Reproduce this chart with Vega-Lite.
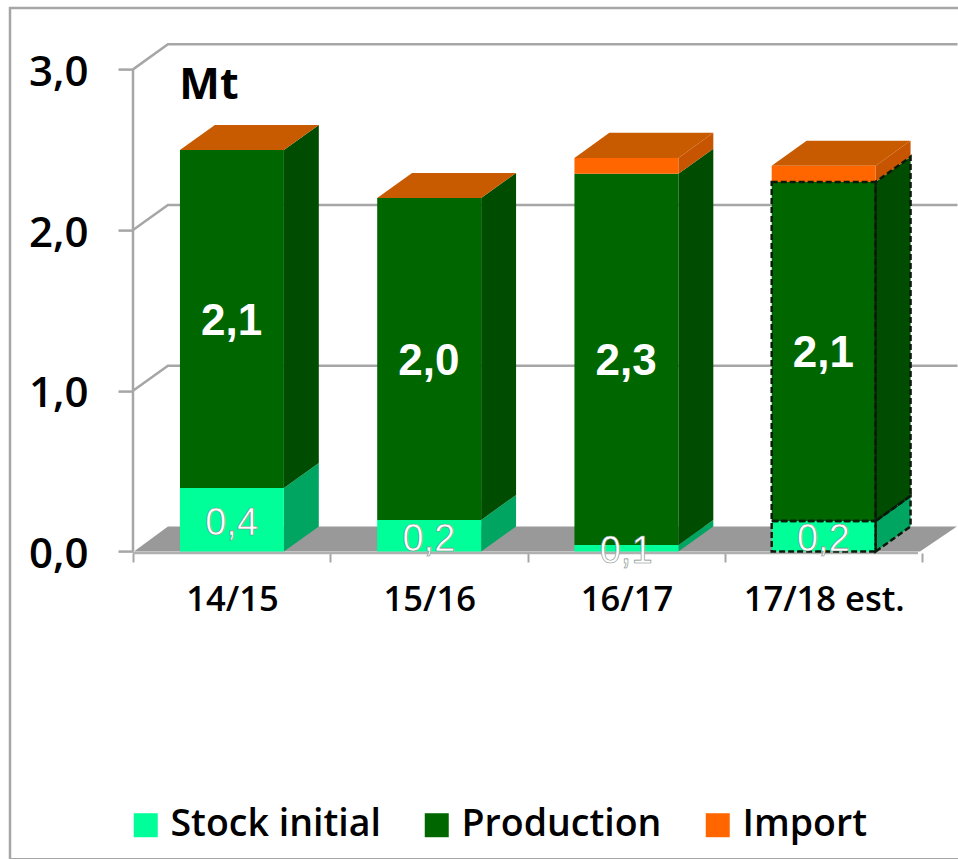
{
"$schema":"https://vega.github.io/schema/vega-lite/v6.json",
"width":825,"height":546.4,
"padding":{"left":133,"top":5.1,"right":0,"bottom":307.5},
"autosize":{"type":"none"},
"background":"#ffffff",
"config":{"view":{"stroke":null},"font":"Open Sans"},
"resolve":{"scale":{"color":"independent"}},
"layer":[
{"data":{"values":[{"item":"frame"}]},
 "mark":{"type":"rect","fill":null,"stroke":"#A6A6A6","strokeWidth":2.5,"clip":false},
 "encoding":{
  "x":{"datum":-0.6236,"type":"quantitative","scale":{"domain":[0,4.1825],"nice":false,"zero":false},
   "axis":{"title":null,"values":[0,1,2,3,4],"domain":false,"grid":false,"offset":1.5,"tickSize":9,"tickWidth":2,"tickColor":"#A6A6A6","labelOffset":99,"labelPadding":21,"labelFontSize":34.5,"labelFontWeight":600,"labelColor":"#000000","labelAlign":"center","labelBaseline":"top","labelExpr":"['14/15','15/16','16/17','17/18 est.',''][datum.value]","labelFlush":false,"labelOverlap":false}},
  "x2":{"datum":4.4},
  "y":{"datum":3.382,"type":"quantitative","scale":{"domain":[0,3.4],"nice":false,"zero":false},
   "axis":{"title":null,"values":[0,1,2,3],"domain":false,"grid":false,"tickSize":15,"tickWidth":2.5,"tickColor":"#A6A6A6","labelPadding":30,"labelFontSize":42,"labelFontWeight":600,"labelColor":"#000000","labelOffset":3,"labelExpr":"replace(format(datum.value,'.1f'),'.',',')","labelOverlap":false}},
  "y2":{"datum":-1.915}
 }},
{"data":{"values":[
  {"level":1,"run":0,"rise":0},{"level":1,"run":0.177,"rise":0.156},{"level":1,"run":4.18,"rise":0.156},
  {"level":2,"run":0,"rise":0},{"level":2,"run":0.177,"rise":0.156},{"level":2,"run":4.18,"rise":0.156},
  {"level":3,"run":0,"rise":0},{"level":3,"run":0.177,"rise":0.156},{"level":3,"run":4.18,"rise":0.156}]},
 "transform":[{"calculate":"datum.level+datum.rise","as":"h"}],
 "mark":{"type":"line","stroke":"#A6A6A6","strokeWidth":2.5},
 "encoding":{
  "x":{"field":"run","type":"quantitative","scale":{"domain":[0,4.1825]}},
  "y":{"field":"h","type":"quantitative","scale":{"domain":[0,3.4]}},
  "detail":{"field":"level"}
 }},
{"data":{"values":[{"depth":0,"from":0.005,"to":3.99},{"depth":0.156,"from":0.177,"to":4.177}]},
 "mark":{"type":"area","orient":"horizontal","fill":"#999999"},
 "encoding":{
  "y":{"field":"depth","type":"quantitative","scale":{"domain":[0,3.4]}},
  "x":{"field":"from","type":"quantitative","scale":{"domain":[0,4.1825]}},
  "x2":{"field":"to"}
 }},
{"data":{"values":[{"item":"y line"}]},
 "mark":{"type":"rule","stroke":"#A6A6A6","strokeWidth":2.5},
 "encoding":{
  "x":{"datum":0,"type":"quantitative","scale":{"domain":[0,4.1825]}},
  "y":{"datum":0,"type":"quantitative","scale":{"domain":[0,3.4]}},
  "y2":{"datum":3}
 }},
{"data":{"values":[{"item":"x line"}]},
 "mark":{"type":"rule","stroke":"#B0B0B0","strokeWidth":2.5,"yOffset":1.5},
 "encoding":{
  "x":{"datum":0,"type":"quantitative","scale":{"domain":[0,4.1825]}},
  "x2":{"datum":3.98},
  "y":{"datum":0,"type":"quantitative","scale":{"domain":[0,3.4]}}
 }},
{"data":{"name":"bars"},
 "transform":[
  {"stack":"value","groupby":["period"],"sort":[{"field":"order","order":"ascending"}],"as":["start","end"]},
  {"calculate":"indexof(['14/15','15/16','16/17','17/18 est.'],datum.period)+0.238","as":"x0"},
  {"calculate":"datum.x0+0.527","as":"x1"},
  {"calculate":"[0,1]","as":"t"},{"flatten":["t"]},
  {"calculate":"datum.x1+datum.t*0.177","as":"sx"},
  {"calculate":"datum.start+datum.t*0.156","as":"lo"},
  {"calculate":"datum.end+datum.t*0.156","as":"hi"},
  {"calculate":"datum.period+datum.series","as":"face"}],
 "mark":{"type":"area","orient":"vertical"},
 "encoding":{
  "x":{"field":"sx","type":"quantitative","scale":{"domain":[0,4.1825]}},
  "y":{"field":"lo","type":"quantitative","scale":{"domain":[0,3.4]}},
  "y2":{"field":"hi"},
  "detail":{"field":"face"},
  "color":{"field":"series","type":"nominal","legend":null,"scale":{"domain":["Stock initial","Production","Import"],"range":["#00A561","#004C00","#C65400"]}}
 }},
{"data":{"name":"bars"},
 "transform":[
  {"stack":"value","groupby":["period"],"sort":[{"field":"order","order":"ascending"}],"as":["start","end"]},
  {"filter":"datum.series==='Import'"},
  {"calculate":"indexof(['14/15','15/16','16/17','17/18 est.'],datum.period)+0.238","as":"x0"},
  {"calculate":"[0,1]","as":"t"},{"flatten":["t"]},
  {"calculate":"datum.x0+datum.t*0.177","as":"ax"},
  {"calculate":"datum.ax+0.527","as":"bx"},
  {"calculate":"datum.end+datum.t*0.156","as":"h"}],
 "mark":{"type":"area","orient":"horizontal","fill":"#C85A00"},
 "encoding":{
  "y":{"field":"h","type":"quantitative","scale":{"domain":[0,3.4]}},
  "x":{"field":"ax","type":"quantitative","scale":{"domain":[0,4.1825]}},
  "x2":{"field":"bx"},
  "detail":{"field":"period"}
 }},
{"data":{"name":"bars"},
 "transform":[
  {"stack":"value","groupby":["period"],"sort":[{"field":"order","order":"ascending"}],"as":["start","end"]},
  {"calculate":"indexof(['14/15','15/16','16/17','17/18 est.'],datum.period)+0.238","as":"x0"},
  {"calculate":"datum.x0+0.527","as":"x1"}],
 "mark":{"type":"rect"},
 "encoding":{
  "x":{"field":"x0","type":"quantitative","scale":{"domain":[0,4.1825]}},
  "x2":{"field":"x1"},
  "y":{"field":"start","type":"quantitative","scale":{"domain":[0,3.4]}},
  "y2":{"field":"end"},
  "color":{"field":"series","type":"nominal","title":null,
   "scale":{"domain":["Stock initial","Production","Import"],"range":["#00FF99","#006600","#FF6600"]},
   "legend":{"orient":"none","legendX":-6,"legendY":801,"direction":"horizontal","columns":3,"symbolType":"square","symbolSize":576,"symbolStrokeWidth":0,"labelFontSize":37.5,"labelFontWeight":600,"labelFont":"Open Sans","labelColor":"#000000","labelOffset":6,"columnPadding":37,"labelLimit":400,"padding":0}}
 }},
{"data":{"name":"bars"},
 "transform":[
  {"stack":"value","groupby":["period"],"sort":[{"field":"order","order":"ascending"}],"as":["start","end"]},
  {"filter":"datum.estimated && datum.series!=='Import'"},
  {"calculate":"indexof(['14/15','15/16','16/17','17/18 est.'],datum.period)+0.238","as":"x0"},
  {"calculate":"datum.x0+0.527","as":"x1"}],
 "mark":{"type":"rect","fillOpacity":0,"stroke":"#0A1A0A","strokeWidth":2.5,"strokeDash":[6,3]},
 "encoding":{
  "x":{"field":"x0","type":"quantitative","scale":{"domain":[0,4.1825]}},
  "x2":{"field":"x1"},
  "y":{"field":"start","type":"quantitative","scale":{"domain":[0,3.4]}},
  "y2":{"field":"end"}
 }},
{"data":{"name":"bars"},
 "transform":[
  {"stack":"value","groupby":["period"],"sort":[{"field":"order","order":"ascending"}],"as":["start","end"]},
  {"filter":"datum.estimated && datum.series!=='Import'"},
  {"calculate":"indexof(['14/15','15/16','16/17','17/18 est.'],datum.period)+0.765","as":"x1"},
  {"calculate":"[0,1]","as":"t"},{"flatten":["t"]},
  {"calculate":"datum.x1+datum.t*0.177","as":"sx"},
  {"calculate":"datum.start+datum.t*0.156","as":"lo"},
  {"calculate":"datum.end+datum.t*0.156","as":"hi"}],
 "mark":{"type":"area","orient":"vertical","fillOpacity":0,"stroke":"#0A1A0A","strokeWidth":2.5,"strokeDash":[6,3]},
 "encoding":{
  "x":{"field":"sx","type":"quantitative","scale":{"domain":[0,4.1825]}},
  "y":{"field":"lo","type":"quantitative","scale":{"domain":[0,3.4]}},
  "y2":{"field":"hi"},
  "detail":{"field":"series"}
 }},
{"data":{"name":"bars"},
 "transform":[
  {"stack":"value","groupby":["period"],"sort":[{"field":"order","order":"ascending"}],"as":["start","end"]},
  {"filter":"datum.series==='Production'"},
  {"calculate":"indexof(['14/15','15/16','16/17','17/18 est.'],datum.period)+0.5","as":"xm"},
  {"calculate":"(datum.start+datum.end)/2","as":"ym"}],
 "mark":{"type":"text","font":"Liberation Sans","fontWeight":"bold","fontSize":44,"fill":"#ffffff","align":"center","baseline":"middle","dy":3},
 "encoding":{
  "x":{"field":"xm","type":"quantitative","scale":{"domain":[0,4.1825]}},
  "y":{"field":"ym","type":"quantitative","scale":{"domain":[0,3.4]}},
  "text":{"field":"label"}
 }},
{"data":{"name":"bars"},
 "transform":[
  {"stack":"value","groupby":["period"],"sort":[{"field":"order","order":"ascending"}],"as":["start","end"]},
  {"filter":"datum.series==='Stock initial'"},
  {"calculate":"indexof(['14/15','15/16','16/17','17/18 est.'],datum.period)+0.5","as":"xm"},
  {"calculate":"(datum.start+datum.end)/2","as":"ym"}],
 "mark":{"type":"text","font":"Liberation Sans","fontWeight":"normal","fontSize":38,"fill":"#ffffff","stroke":"#7A8A85","strokeWidth":0.6,"align":"center","baseline":"middle","dy":4},
 "encoding":{
  "x":{"field":"xm","type":"quantitative","scale":{"domain":[0,4.1825]}},
  "y":{"field":"ym","type":"quantitative","scale":{"domain":[0,3.4]}},
  "text":{"field":"label"}
 }},
{"data":{"values":[{"unit":"Mt"}]},
 "mark":{"type":"text","fontSize":43,"fontWeight":"bold","font":"Open Sans","fill":"#000000","align":"left","baseline":"alphabetic"},
 "encoding":{
  "x":{"datum":0.235,"type":"quantitative","scale":{"domain":[0,4.1825]}},
  "y":{"datum":2.816,"type":"quantitative","scale":{"domain":[0,3.4]}},
  "text":{"field":"unit"}
 }}
],
"datasets":{"bars":[
 {"period":"14/15","series":"Stock initial","order":1,"value":0.395,"label":"0,4","estimated":false},
 {"period":"14/15","series":"Production","order":2,"value":2.103,"label":"2,1","estimated":false},
 {"period":"14/15","series":"Import","order":3,"value":0,"label":"","estimated":false},
 {"period":"15/16","series":"Stock initial","order":1,"value":0.196,"label":"0,2","estimated":false},
 {"period":"15/16","series":"Production","order":2,"value":2.004,"label":"2,0","estimated":false},
 {"period":"15/16","series":"Import","order":3,"value":0,"label":"","estimated":false},
 {"period":"16/17","series":"Stock initial","order":1,"value":0.04,"label":"0,1","estimated":false},
 {"period":"16/17","series":"Production","order":2,"value":2.31,"label":"2,3","estimated":false},
 {"period":"16/17","series":"Import","order":3,"value":0.099,"label":"","estimated":false},
 {"period":"17/18 est.","series":"Stock initial","order":1,"value":0.19,"label":"0,2","estimated":true},
 {"period":"17/18 est.","series":"Production","order":2,"value":2.11,"label":"2,1","estimated":true},
 {"period":"17/18 est.","series":"Import","order":3,"value":0.1,"label":"","estimated":true}
]}
}
